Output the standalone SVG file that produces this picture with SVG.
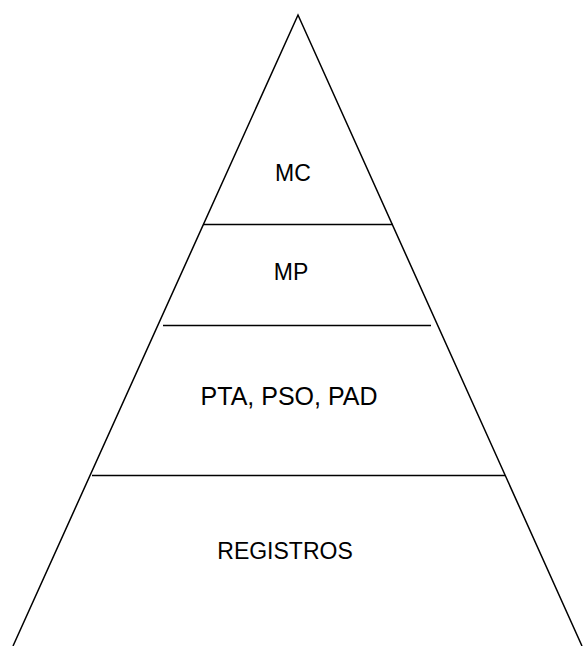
<svg xmlns="http://www.w3.org/2000/svg" width="584" height="646" viewBox="0 0 584 646">
<style>
.ln{stroke:#000;stroke-width:1.5;fill:none}
.t{font-family:"Liberation Sans",Arial,sans-serif;font-size:23px;fill:#000;text-anchor:middle}
.b{font-size:25px}
</style>
<rect width="584" height="646" fill="#fff"/>
<g id="pyramid">
<polyline class="ln" points="13,646 298,15 582,646"/>
</g>
<g id="connectors">
<line class="ln" x1="203" y1="224.5" x2="393" y2="224.5"/>
<line class="ln" x1="163" y1="325.5" x2="431" y2="325.5"/>
<line class="ln" x1="92" y1="475.5" x2="505" y2="475.5"/>
</g>
<g id="mc"><text class="t" x="293" y="181">MC</text></g>
<g id="mp"><text class="t" x="291" y="280">MP</text></g>
<g id="pta"><text class="t b" x="289" y="405">PTA, PSO, PAD</text></g>
<g id="registros"><text class="t" x="285" y="559">REGISTROS</text></g>
</svg>
